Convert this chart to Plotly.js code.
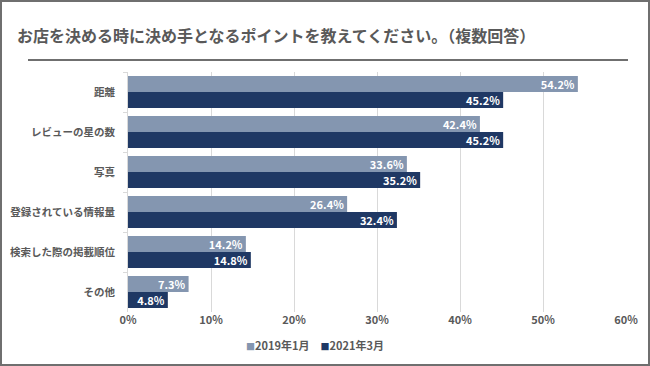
<!DOCTYPE html>
<html><head><meta charset="utf-8">
<script src="https://cdn.plot.ly/plotly-3.0.1.min.js"></script>
<style>
html,body{margin:0;padding:0;background:#fff;}
#c{width:646px;height:362px;border:2px solid #6f6f6f;}
</style></head><body>
<div id="c"></div>
<script>
const categories = ["距離","レビューの星の数","写真","登録されている情報量","検索した際の掲載順位","その他"];
const v2019 = [54.2, 42.4, 33.6, 26.4, 14.2, 7.3];
const v2021 = [45.2, 45.2, 35.2, 32.4, 14.8, 4.8];
const seriesNames = ["2019年1月","2021年3月"];
const colors = ['#8496b0', '#1f3864'];
const xTicks = [0,10,20,30,40,50,60];

const font = "'Noto Sans CJK JP', 'Noto Sans', sans-serif";
function mk(vals, name, color){
  return {type:'bar', orientation:'h', y:categories, x:vals, name:name,
    marker:{color:color},
    text: vals.map(v=>v.toFixed(1)+'%'), textposition:'inside', insidetextanchor:'end',
    constraintext:'none',
    textfont:{color:'#ffffff', size:11, family:font, weight:'bold'},
    hoverinfo:'skip'};
}
const data = [mk(v2019, seriesNames[0], colors[0]), mk(v2021, seriesNames[1], colors[1])];
const legendText = seriesNames.map((n,i)=>"<span style='color:"+colors[i]+";font-size:9px'>■</span>"+n).join('　');
const layout = {
  width:646, height:362,
  margin:{l:126, r:22, t:70, b:52},
  paper_bgcolor:'#fff', plot_bgcolor:'#fff',
  font:{family:font, color:'#595959'},
  barmode:'group', bargap:0.2, bargroupgap:0,
  showlegend:false,
  xaxis:{range:[0,60], tickvals:xTicks, ticktext:xTicks.map(t=>t+'%'),
    showgrid:true, gridcolor:'#d9d9d9', gridwidth:1, zeroline:false,
    tickfont:{size:11, color:'#595959', weight:'bold'}, fixedrange:true, showline:false},
  yaxis:{autorange:'reversed', showline:true, linecolor:'#d9d9d9', linewidth:1,
    ticks:'outside', tickson:'boundaries', ticklen:4, tickcolor:'#d9d9d9',
    tickfont:{size:10.5, color:'#595959', weight:'bold'}, ticklabelstandoff:10},
  annotations:[
    {text:'お店を決める時に決め手となるポイントを教えてください。（複数回答）',
    xref:'paper', yref:'paper', x:-0.227, y:1.154, xanchor:'left', yanchor:'middle', showarrow:false,
    font:{size:16, color:'#595959', family:font, weight:'bold'}},
    {text:legendText, xref:'paper', yref:'paper', x:0.376, y:-0.1375, xanchor:'center', yanchor:'middle',
    showarrow:false, font:{size:11, color:'#595959', family:font, weight:'bold'}}
  ],
  shapes:[{type:'line', xref:'paper', yref:'paper', x0:-0.2008, x1:1.004, y0:1.05, y1:1.05,
    line:{color:'#6f6f6f', width:2}}]
};
Plotly.newPlot('c', data, layout, {displayModeBar:false, staticPlot:true});
</script></body></html>
